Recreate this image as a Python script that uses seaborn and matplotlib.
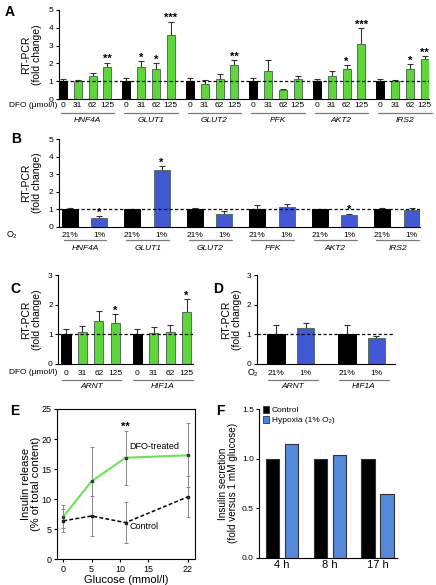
import numpy as np
import pandas as pd
import matplotlib
matplotlib.use("Agg")
import matplotlib.pyplot as plt
import seaborn as sns
from matplotlib.transforms import blended_transform_factory as btf
from matplotlib.patches import Patch

sns.set_theme(style="ticks")
plt.rcParams["font.family"] = ["Liberation Sans", "DejaVu Sans"]
plt.rcParams.update({
    "axes.linewidth": 0.8, "axes.edgecolor": "black",
    "xtick.major.width": 0.8, "ytick.major.width": 0.8,
    "xtick.major.size": 2.5, "ytick.major.size": 2.5,
    "xtick.color": "black", "ytick.color": "black",
    "text.color": "black", "axes.labelcolor": "black",
})

# ---------------- data ----------------
genes_AB = ["HNF4A", "GLUT1", "GLUT2", "PFK", "AKT2", "IRS2"]
doses = ["0", "31", "62", "125"]
o2_levels = ["21%", "1%"]

A_mean = [[1.00, 1.00, 1.32, 1.82],
          [1.00, 1.80, 1.68, 3.58],
          [1.00, 0.87, 1.11, 1.89],
          [1.00, 1.58, 0.49, 1.11],
          [1.00, 1.32, 1.66, 3.09],
          [1.00, 1.00, 1.68, 2.23]]
A_top = [[1.13, 1.08, 1.48, 2.05],
         [1.20, 2.15, 2.00, 4.35],
         [1.20, 1.06, 1.40, 2.19],
         [1.20, 2.17, 0.58, 1.32],
         [1.15, 1.57, 1.92, 3.98],
         [1.15, 1.06, 1.94, 2.42]]
A_stars = [["", "", "", "**"], ["", "*", "*", "***"], ["", "", "", "**"],
           ["", "", "", ""], ["", "", "*", "***"], ["", "", "*", "**"]]

B_mean = [[1.00, 0.52], [1.00, 3.22], [1.00, 0.75], [1.00, 1.15], [1.00, 0.68], [1.00, 0.98]]
B_top = [[1.08, 0.60], [1.02, 3.45], [1.07, 0.92], [1.22, 1.30], [1.04, 0.75], [1.05, 1.05]]
B_stars = [["", "*"], ["", "*"], ["", ""], ["", ""], ["", "*"], ["", ""]]

genes_CD = ["ARNT", "HIF1A"]
C_mean = [[1.00, 1.07, 1.45, 1.37], [1.00, 1.05, 1.07, 1.76]]
C_top = [[1.18, 1.29, 1.80, 1.67], [1.18, 1.26, 1.31, 2.20]]
C_stars = [["", "", "", "*"], ["", "", "", "*"]]

D_mean = [[1.00, 1.20], [1.00, 0.86]]
D_top = [[1.33, 1.38], [1.33, 0.96]]

glucose = [0, 5, 11, 22]
E_dfo = [7.1, 13.0, 16.9, 17.3]
E_dfo_err = [1.9, 5.7, 4.5, 5.3]
E_ctrl = [6.4, 7.2, 6.1, 10.4]
E_ctrl_err = [1.9, 3.3, 3.4, 3.4]

F_times = ["4 h", "8 h", "17 h"]
F_control = [1.0, 1.0, 1.0]
F_hypoxia = [1.15, 1.04, 0.64]

GREEN = "#4ff01f"
BLUE_B = "#2a48ee"
BLUE_F = "#3f84f3"
BLACK = "#000000"

W, H = 436, 585
fig = plt.figure(figsize=(W / 100, H / 100), dpi=100)


def add_ax(l, r, t, b):
    return fig.add_axes([l / W, 1 - b / H, (r - l) / W, (b - t) / H])


def bar_panel(ax, pos, vals, tops, conds, pal, width, stars, labels,
              ylim, yticks, xlim, hpx, lab_d, line_d, name_d, groups, names):
    df = pd.DataFrame({"pos": pos, "val": vals, "cond": conds})
    sns.barplot(data=df, x="pos", y="val", hue="cond", palette=pal,
                native_scale=True, dodge=False, width=width, errorbar=None,
                legend=False, ax=ax, linewidth=0.7, zorder=2)
    for p in ax.patches:
        fc = p.get_facecolor()
        if sum(fc[:3]) < 0.1:
            p.set_edgecolor("black")
        else:
            p.set_edgecolor("#55705a")
    vals = np.asarray(vals)
    tops = np.asarray(tops)
    ax.errorbar(pos, vals, yerr=[np.zeros_like(vals), tops - vals], fmt="none",
                ecolor="#333333", elinewidth=0.8, capsize=2.0, capthick=0.8, zorder=1.5)
    for p, t, s in zip(pos, tops, stars):
        if s:
            ax.annotate(s, (p, t), xytext=(0, 0.2), textcoords="offset points",
                        ha="center", va="baseline", fontsize=8, fontweight="bold")
    ax.axhline(1, ls=(0, (2.6, 1.8)), color="black", lw=0.9, zorder=3)
    ax.set_xlim(*xlim)
    ax.set_ylim(*ylim)
    ax.set_yticks(yticks)
    ax.set_yticklabels([str(v) for v in yticks], fontsize=6)
    ax.set_xticks(pos)
    ax.set_xticklabels(labels, fontsize=6)
    ax.tick_params(axis="x", length=0, pad=lab_d - 4.5)
    ax.tick_params(axis="y", pad=1.5)
    ax.set_xlabel("")
    sns.despine(ax=ax)
    tr = btf(ax.transData, ax.transAxes)
    for (x0, x1), nm in zip(groups, names):
        ax.plot([x0, x1], [-line_d / hpx] * 2, transform=tr, clip_on=False,
                color="#7a7a7a", lw=0.9)
        ax.text((x0 + x1) / 2, -name_d / hpx, nm, transform=tr, ha="center",
                va="center", fontsize=6, style="italic")


def ylab(ax, text, cx, left, width, fs=7.5):
    ax.set_ylabel(text, fontsize=fs, va="center", linespacing=1.1)
    ax.yaxis.set_label_coords((cx - left) / width, 0.5)


# ---------------- Panel A ----------------
axA = add_ax(59, 429, 10, 99)
GA, nA = 4.29, len(doses)
posA = [g * GA + i for g in range(len(genes_AB)) for i in range(nA)]
condsA = ["ctrl" if i == 0 else "dfo" for g in range(len(genes_AB)) for i in range(nA)]
bar_panel(axA, posA, np.ravel(A_mean), np.ravel(A_top), condsA,
          {"ctrl": BLACK, "dfo": GREEN}, 0.54, sum(A_stars, []),
          doses * len(genes_AB), (0, 5), [0, 1, 2, 3, 4, 5], (-0.27, 24.73), 89,
          6.5, 14, 21, [(g * GA - 0.15, g * GA + 3.45) for g in range(6)], genes_AB)
ylab(axA, "RT-PCR\n(fold change)", 32, 59, 370)
fig.text(57 / W, 1 - 105.5 / H, "DFO (µmol/l)", ha="right", va="center", fontsize=6)

# ---------------- Panel B ----------------
axB = add_ax(59, 420, 139.3, 226.7)
GB = 2.12
posB = [g * GB + i for g in range(len(genes_AB)) for i in range(2)]
condsB = [o for g in range(len(genes_AB)) for o in o2_levels]
bar_panel(axB, posB, np.ravel(B_mean), np.ravel(B_top), condsB,
          {"21%": BLACK, "1%": BLUE_B}, 0.54, sum(B_stars, []),
          o2_levels * len(genes_AB), (0, 5), [0, 1, 2, 3, 4, 5], (-0.36, 11.88), 87.4,
          8, 13.3, 22, [(g * GB - 0.2, g * GB + 1.25) for g in range(6)], genes_AB)
ylab(axB, "RT-PCR\n(fold change)", 32, 59, 361)
fig.text(7 / W, 1 - 235 / H, "O₂", ha="left", va="center", fontsize=6.5)

# ---------------- Panel C ----------------
axC = add_ax(58.3, 193, 275, 364)
GC = 4.36
posC = [g * GC + i for g in range(len(genes_CD)) for i in range(nA)]
condsC = ["ctrl" if i == 0 else "dfo" for g in range(len(genes_CD)) for i in range(nA)]
bar_panel(axC, posC, np.ravel(C_mean), np.ravel(C_top), condsC,
          {"ctrl": BLACK, "dfo": GREEN}, 0.55, sum(C_stars, []),
          doses * len(genes_CD), (0, 3), [0, 1, 2, 3], (-0.47, 7.75), 89,
          9, 16, 23, [(g * GC - 0.26, g * GC + 3.36) for g in range(2)], genes_CD)
ylab(axC, "RT-PCR\n(fold change)", 32, 58.3, 134.7)
fig.text(57 / W, 1 - 373 / H, "DFO (µmol/l)", ha="right", va="center", fontsize=6)

# ---------------- Panel D ----------------
axD = add_ax(256.7, 395, 275, 364)
GD = 2.4
posD = [g * GD + i for g in range(len(genes_CD)) for i in range(2)]
condsD = [o for g in range(len(genes_CD)) for o in o2_levels]
bar_panel(axD, posD, np.ravel(D_mean), np.ravel(D_top), condsD,
          {"21%": BLACK, "1%": BLUE_B}, 0.59, [""] * 4,
          o2_levels * len(genes_CD), (0, 3), [0, 1, 2, 3], (-0.66, 4.03), 89,
          9, 16, 23, [(g * GD - 0.27, g * GD + 1.41) for g in range(2)], genes_CD)
ylab(axD, "RT-PCR\n(fold change)", 232, 256.7, 138.3)
fig.text(248 / W, 1 - 373 / H, "O₂", ha="left", va="center", fontsize=6.5)

# ---------------- Panel E ----------------
axE = add_ax(57.3, 195, 409, 559.3)
dfE = pd.DataFrame({"glucose": glucose * 2, "release": E_dfo + E_ctrl,
                    "group": ["DFO-treated"] * 4 + ["Control"] * 4})
axE.errorbar(glucose, E_dfo, yerr=E_dfo_err, fmt="none", ecolor="#8a8a8a",
             elinewidth=0.7, capsize=1.5, capthick=0.7, zorder=1)
axE.errorbar(glucose, E_ctrl, yerr=E_ctrl_err, fmt="none", ecolor="#8a8a8a",
             elinewidth=0.7, capsize=1.5, capthick=0.7, zorder=1)
sns.lineplot(data=dfE[dfE.group == "DFO-treated"], x="glucose", y="release",
             color="#6be452", lw=1.5, ax=axE, zorder=2)
sns.lineplot(data=dfE[dfE.group == "Control"], x="glucose", y="release",
             color="black", lw=1.1, ls=(0, (2.5, 1.5)), ax=axE, zorder=2)
axE.scatter(glucose, E_dfo, marker="s", s=4, color="#2a4a2a", zorder=3)
axE.scatter(glucose, E_ctrl, marker="s", s=4, color="#222222", zorder=3)
axE.set_xlim(-1.06, 23.23)
axE.set_ylim(0, 25)
axE.set_xticks([0, 5, 10, 15, 22])
axE.set_xticklabels(["0", "5", "10", "15", "22"], fontsize=6.5)
axE.set_yticks([0, 5, 10, 15, 20, 25])
axE.set_yticklabels(["0", "5", "10", "15", "20", "25"], fontsize=6.5)
axE.tick_params(pad=1.5)
axE.set_xlabel("Glucose (mmol/l)", fontsize=8, labelpad=1)
ylab(axE, "Insulin release\n(% of total content)", 31, 57.3, 137.7, fs=8)
axE.annotate("**", (glucose[2], E_dfo[2] + E_dfo_err[2]), xytext=(0, 0.5),
             textcoords="offset points", ha="center", va="baseline",
             fontsize=8, fontweight="bold")
axE.text(16.0, 18.7, "DFO-treated", ha="center", va="center", fontsize=6.5)
axE.text(11.6, 5.5, "Control", ha="left", va="center", fontsize=6.5)

# ---------------- Panel F ----------------
axF = add_ax(259.3, 397, 409, 557.7)
dfF = pd.DataFrame({"time": F_times * 2, "value": F_control + F_hypoxia,
                    "cond": ["Control"] * 3 + ["Hypoxia (1% O₂)"] * 3})
sns.barplot(data=dfF, x="time", y="value", hue="cond",
            palette={"Control": BLACK, "Hypoxia (1% O₂)": BLUE_F},
            width=0.8, gap=0.3, errorbar=None, ax=axF,
            edgecolor="#333333", linewidth=0.8, legend=False)
axF.set_xlim(-0.48, 2.41)
axF.set_ylim(0, 1.5)
axF.set_yticks([0, 0.5, 1.0, 1.5])
axF.set_yticklabels(["0.0", "0.5", "1.0", "1.5"], fontsize=6)
axF.tick_params(axis="x", labelsize=8, length=0, pad=2)
axF.tick_params(axis="y", pad=1.5)
axF.set_xlabel("")
sns.despine(ax=axF)
ylab(axF, "Insulin secretion\n(fold versus 1 mM glucose)", 228, 259.3, 137.7, fs=7.2)
handles = [Patch(facecolor=BLACK, edgecolor="#333333", lw=0.6, label="Control"),
           Patch(facecolor=BLUE_F, edgecolor="#333333", lw=0.6, label="Hypoxia (1% O₂)")]
axF.legend(handles=handles, loc="upper left", bbox_to_anchor=(0.025, 1.02),
           frameon=False, fontsize=6, handlelength=0.8, handleheight=0.9,
           handletextpad=0.3, labelspacing=0.15, borderpad=0, borderaxespad=0)

# ---------------- panel letters ----------------
for letter, x, y in [("A", 5, 12), ("B", 11, 139), ("C", 10, 289), ("D", 213, 289),
                     ("E", 10, 411), ("F", 216, 411)]:
    fig.text(x / W, 1 - y / H, letter, ha="left", va="center", fontsize=10,
             fontweight="bold")

fig.savefig("out.png", dpi=100)
